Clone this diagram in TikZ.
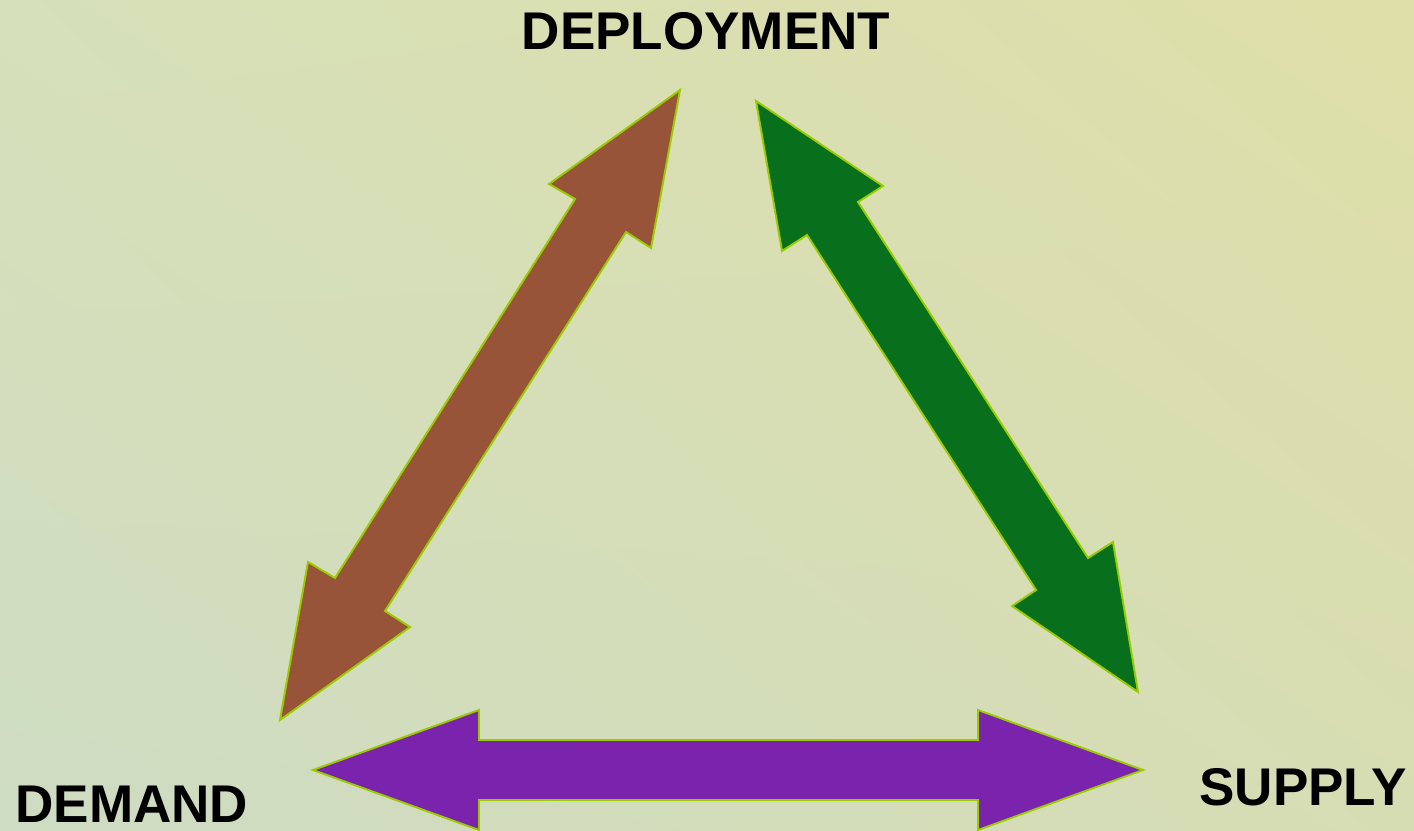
\documentclass[tikz,border=0pt]{standalone}
\usepackage{fontspec}
\setmainfont{Liberation Sans}
\usetikzlibrary{positioning,shadings}

\definecolor{bgul}{HTML}{D6E0B9}
\definecolor{bgur}{HTML}{DFDFA8}
\definecolor{bgll}{HTML}{CEDCC3}
\definecolor{bglr}{HTML}{D7DDB3}
\definecolor{rim}{HTML}{9ACB00}
\definecolor{brownarrow}{HTML}{975438}
\definecolor{greenarrow}{HTML}{08701C}
\definecolor{purplearrow}{HTML}{7A24AE}

\tikzset{
  blockarrow/.style={draw=rim,line width=1.1pt,line join=miter},
  corner/.style={font=\bfseries\fontsize{30.2}{36}\selectfont,inner sep=0pt}
}

\begin{document}
\begin{tikzpicture}[x=0.02cm,y=-0.02cm]
\shade[upper left=bgul,upper right=bgur,lower left=bgll,lower right=bglr]
  (0,0) rectangle (1414,831);
\useasboundingbox (0,0) rectangle (1414,831);
% corner labels
\node[corner,anchor=base] (deploy) at (706,50) {DEPLOYMENT};
\node[corner,anchor=base west] (demand) at (15,822) {DEMAND};
\node[corner,anchor=base west] (supply) at (1199,805) {SUPPLY};
% demand <-> deployment
\draw[blockarrow,fill=brownarrow] (680,90) coordinate(bt) -- (549,184) -- (575,199)
  -- (335,578) -- (308,562) -- (280,720) coordinate(bb) -- (410,627) -- (385,611)
  -- (626,232) -- (651,248) -- cycle;
% deployment <-> supply
\draw[blockarrow,fill=greenarrow] (756,101) coordinate(gt) -- (883,186) -- (858,202)
  -- (1088,558) -- (1113,542) -- (1138,692) coordinate(gb) -- (1012,606) -- (1036,590)
  -- (807,235) -- (782,251) -- cycle;
% demand <-> supply
\draw[blockarrow,fill=purplearrow] (313,770) coordinate(pl) -- (479,710) -- (479,740)
  -- (978,740) -- (978,710) -- (1143,770) coordinate(pr) -- (978,830) -- (978,800)
  -- (479,800) -- (479,830) -- cycle;
\end{tikzpicture}
\end{document}
